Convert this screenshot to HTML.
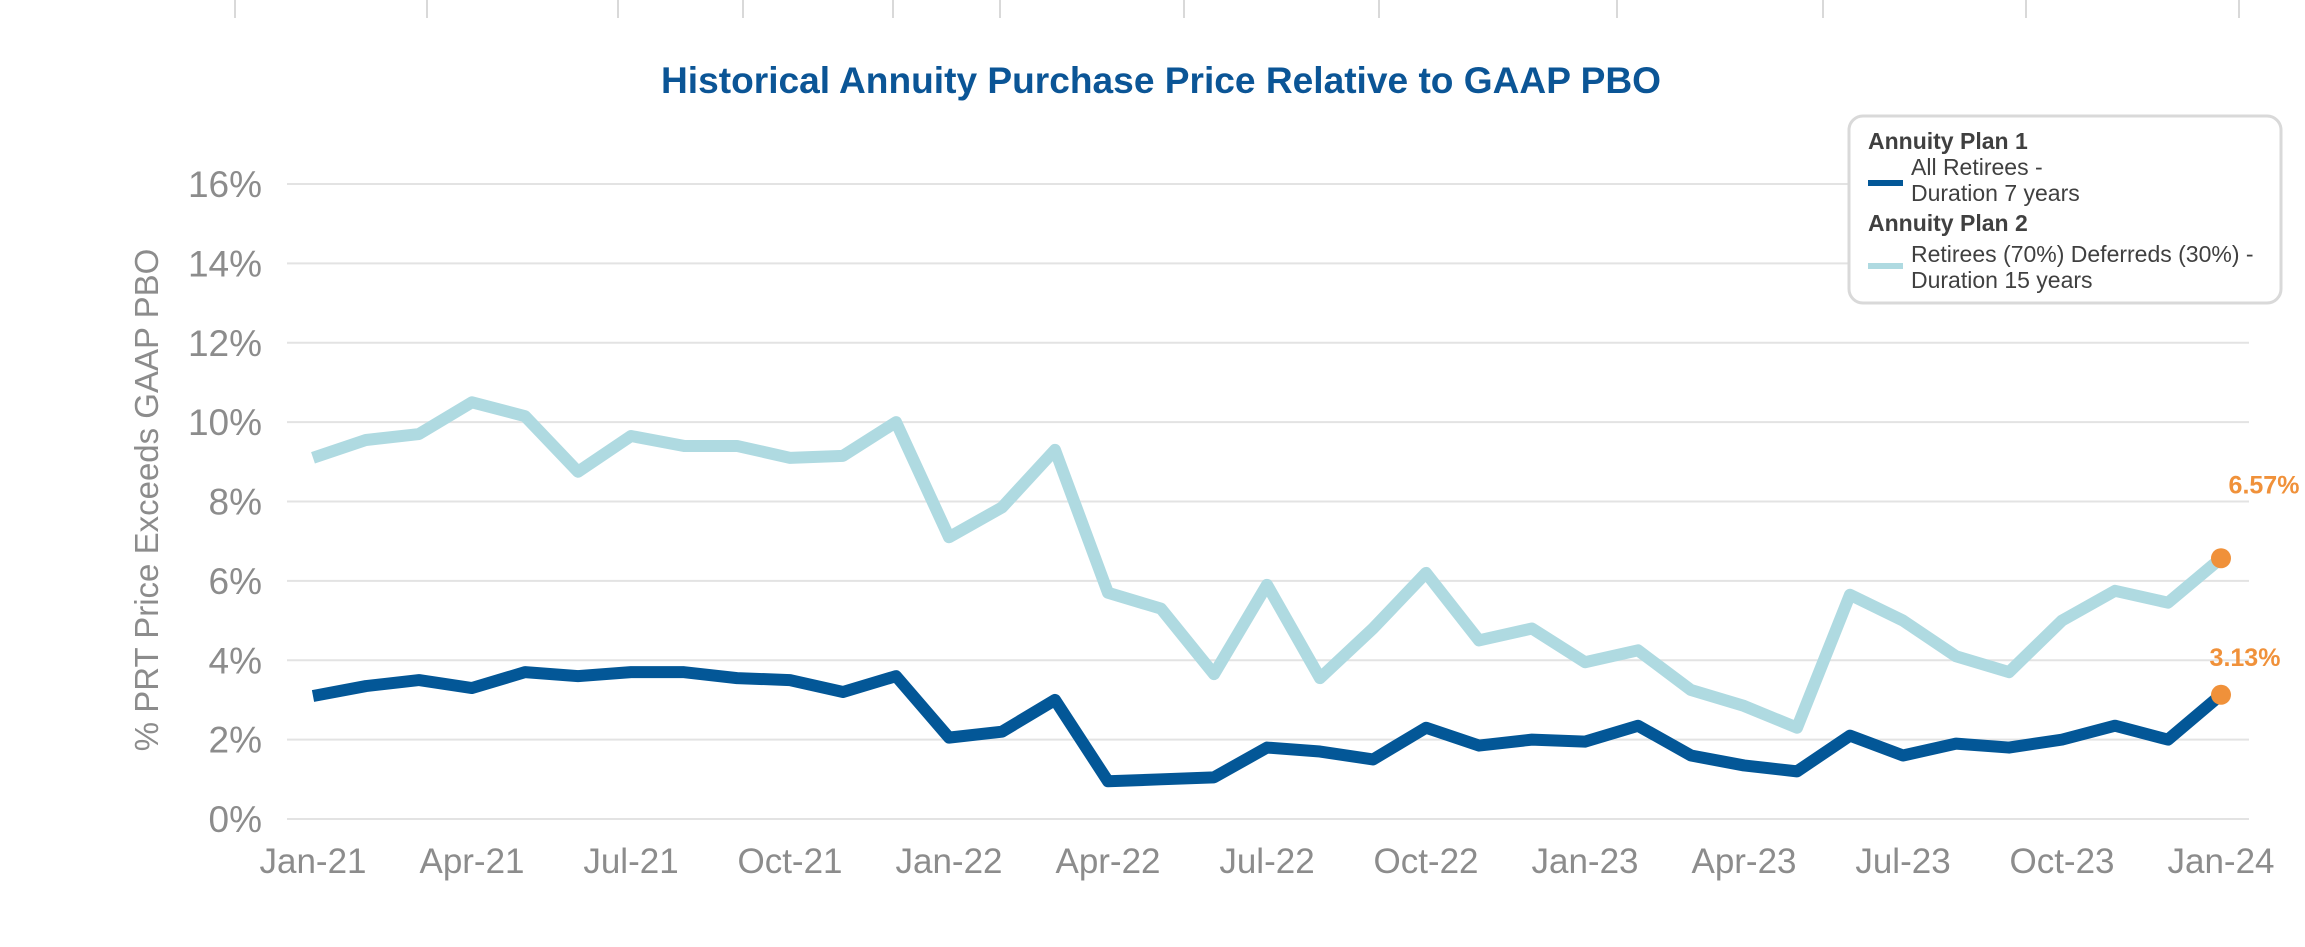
<!DOCTYPE html>
<html><head><meta charset="utf-8"><style>
html,body{margin:0;padding:0;background:#fff;}
svg{display:block;font-family:"Liberation Sans",sans-serif;}
</style></head><body>
<svg id="chart" width="2305" height="947" viewBox="0 0 2305 947">
<g id="topticks"></g>
<text x="1161" y="93" text-anchor="middle" font-size="37" font-weight="bold" fill="#0b5596" textLength="1000" lengthAdjust="spacingAndGlyphs">Historical Annuity Purchase Price Relative to GAAP PBO</text>
<g id="grid"></g>
<g id="yticks"></g>
<g id="xticks"></g>
<text transform="translate(158,500) rotate(-90)" text-anchor="middle" font-size="33" fill="#8c8c8c">% PRT Price Exceeds GAAP PBO</text>
<g id="series"></g>
<g>
<rect x="1849" y="116" width="432" height="187" rx="14" fill="#fff" stroke="#d9d9d9" stroke-width="3"/>
<text x="1868" y="149" font-size="23" font-weight="bold" fill="#404040">Annuity Plan 1</text>
<line x1="1868" y1="183" x2="1903" y2="183" stroke="#035797" stroke-width="6"/>
<text x="1911" y="175" font-size="23" fill="#404040">All Retirees -</text>
<text x="1911" y="201" font-size="23" fill="#404040">Duration 7 years</text>
<text x="1868" y="231" font-size="23" font-weight="bold" fill="#404040">Annuity Plan 2</text>
<line x1="1868" y1="266" x2="1903" y2="266" stroke="#afdae1" stroke-width="6"/>
<text x="1911" y="262" font-size="23" fill="#404040">Retirees (70%) Deferreds (30%) -</text>
<text x="1911" y="288" font-size="23" fill="#404040">Duration 15 years</text>
</g>
</svg>
<script>
const months = 37;
const xTickLabels = ["Jan-21","Apr-21","Jul-21","Oct-21","Jan-22","Apr-22","Jul-22","Oct-22","Jan-23","Apr-23","Jul-23","Oct-23","Jan-24"];
const yTickValues = [0,2,4,6,8,10,12,14,16];
const plan1 = [3.1,3.35,3.5,3.3,3.7,3.6,3.7,3.7,3.55,3.5,3.2,3.6,2.05,2.2,3.0,0.95,1.0,1.05,1.8,1.7,1.5,2.3,1.85,2.0,1.95,2.35,1.6,1.35,1.2,2.1,1.6,1.9,1.8,2.0,2.35,2.0,3.13];
const plan2 = [9.1,9.55,9.7,10.5,10.15,8.75,9.65,9.4,9.4,9.1,9.15,10.0,7.1,7.85,9.3,5.7,5.3,3.65,5.9,3.55,4.8,6.2,4.5,4.8,3.95,4.25,3.25,2.85,2.3,5.65,5.0,4.1,3.7,5.0,5.75,5.45,6.57];
const topTickX = [235,427,618,743,893,1000,1184,1379,1617,1823,2026,2239];

const NS="http://www.w3.org/2000/svg";
const X=i=>313+i*(2221-313)/36;
const Y=v=>819-v*(819-184)/16;
function mk(tag,attrs,parent){const e=document.createElementNS(NS,tag);for(const k in attrs)e.setAttribute(k,attrs[k]);parent.appendChild(e);return e;}
const grid=document.getElementById('grid'),yt=document.getElementById('yticks'),xt=document.getElementById('xticks'),ser=document.getElementById('series'),tt=document.getElementById('topticks');
topTickX.forEach(x=>{const l=mk('line',{x1:x,y1:0,x2:x,y2:18,stroke:'#d9d9d9','stroke-width':2},tt);

});
yTickValues.forEach(v=>{
 const l=mk('line',{x1:287,x2:2249,y1:Y(v),y2:Y(v),stroke:'#e3e3e3','stroke-width':2},grid);
 
 
 const t=mk('text',{x:262,y:Y(v)+13,'text-anchor':'end','font-size':37,fill:'#8c8c8c'},yt);
 t.textContent=v+'%';
 
 
});
xTickLabels.forEach((s,i)=>{
 const t=mk('text',{x:X(i*3),y:873,'text-anchor':'middle','font-size':35,fill:'#8c8c8c'},xt);
 t.textContent=s;
 
 
});
function line(data,color,name){
 const p=mk('polyline',{points:data.map((v,i)=>X(i)+','+Y(v)).join(' '),fill:'none',stroke:color,'stroke-width':12,'stroke-linejoin':'round'},ser);
 
 
}
line(plan2,'#afdae1','line-plan2');
line(plan1,'#035797','line-plan1');
[[plan2,-65,'label-plan2-last',2264],[plan1,-29,'label-plan1-last',2245]].forEach(([d,dy,nm,lx])=>{
 const n=d.length-1;
 const c=mk('circle',{cx:X(n),cy:Y(d[n]),r:10,fill:'#f0913a'},ser);
 
 
 const t=mk('text',{x:lx,y:Y(d[n])+dy,'text-anchor':'middle','font-size':25,'font-weight':'bold',fill:'#f0913a'},ser);
 t.textContent=(d[n]).toFixed(2)+'%';
 
 
});
</script>
</body></html>
